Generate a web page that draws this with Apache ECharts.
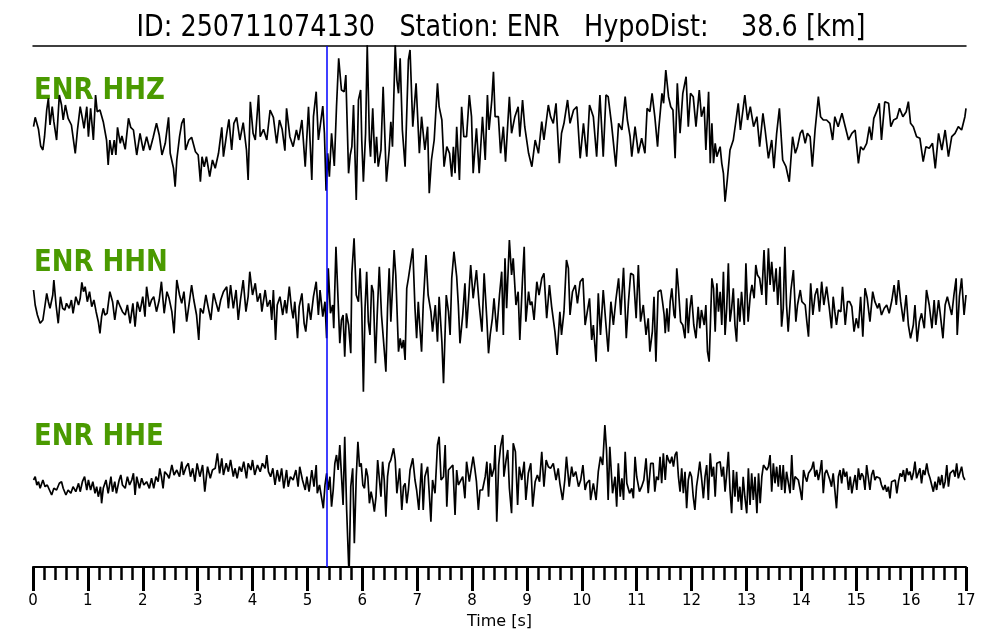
<!DOCTYPE html>
<html><head><meta charset="utf-8">
<script src="https://cdn.jsdelivr.net/npm/echarts@6.0.0/dist/echarts.min.js"></script>
<style>html,body{margin:0;padding:0;background:#fff}#c{width:1000px;height:640px}</style>
</head><body><div id="c"></div>
<script>
const titleText = 'ID: 250711074130   Station: ENR   HypoDist:    38.6 [km]';
const channelNames = ['ENR HHZ', 'ENR HHN', 'ENR HHE'];
const pickTime = 5.36;
const xTicks = {min: 0, max: 17, interval: 1};

// [time s, amplitude]
const zTrace = [[0.01,3.3],[0.04,12.7],[0.10,0.7],[0.14,-16],[0.18,-20],[0.21,-6.7],[0.25,20],[0.28,31.7],[0.31,5],[0.35,23.3],[0.38,8.3],[0.43,-10],[0.48,35],[0.52,25],[0.55,10],[0.59,25],[0.64,11.7],[0.70,5],[0.77,-23.3],[0.81,0],[0.86,23.3],[0.90,11.7],[0.93,1.7],[0.98,23.3],[1.01,-6.7],[1.05,21.7],[1.10,-10],[1.14,35],[1.17,18.3],[1.22,20],[1.28,8.3],[1.34,-10],[1.37,-35],[1.40,-10],[1.44,-25],[1.48,-10],[1.51,-25],[1.54,2.7],[1.59,-13.3],[1.62,-6],[1.68,-19.3],[1.74,11.7],[1.78,2.7],[1.83,0],[1.89,-25],[1.95,-3.3],[2.01,-20.7],[2.07,-6.7],[2.13,-20],[2.19,-7.3],[2.25,6.7],[2.30,-5],[2.35,-25],[2.41,-13.3],[2.47,12.7],[2.50,-23.3],[2.56,-38.3],[2.59,-56.7],[2.62,-30],[2.67,-6.7],[2.71,6.7],[2.75,11.7],[2.78,-20],[2.84,-10],[2.89,-7.3],[2.96,-21.7],[3.01,-25],[3.05,-51.7],[3.08,-26.7],[3.12,-36.7],[3.16,-26.7],[3.22,-46.7],[3.27,-30],[3.32,-38.3],[3.38,-23.3],[3.44,2.7],[3.47,-26.7],[3.53,-3.3],[3.57,10.7],[3.62,-20],[3.66,6.7],[3.71,12.7],[3.77,-10],[3.83,7.3],[3.89,-20],[3.92,-50],[3.96,28.3],[4.01,-3.3],[4.05,-10],[4.11,35],[4.14,-6.7],[4.20,0.7],[4.26,-10],[4.32,20],[4.38,12.7],[4.44,-13.3],[4.49,10],[4.54,0.7],[4.59,-20.7],[4.62,21.7],[4.68,-6.7],[4.74,-16.7],[4.80,0],[4.84,-10],[4.90,10],[4.96,-36.7],[5.02,23.3],[5.08,-50],[5.11,13.3],[5.16,38.3],[5.20,-10],[5.28,24],[5.31,-3.3],[5.34,-60.7],[5.37,-23.3],[5.40,-46.7],[5.44,-3.3],[5.49,-36],[5.53,23.3],[5.57,71.7],[5.62,40],
[5.67,38.3],[5.70,55],[5.75,-43.3],[5.78,-25],[5.81,-16.7],[5.84,25],[5.89,-70],[5.93,30],[5.97,40],[5.99,-10],[6.02,-51.7],[6.06,-3.3],[6.09,85],[6.13,-10],[6.15,-26.7],[6.19,21.7],[6.23,-33.3],[6.26,-6.7],[6.29,-36.7],[6.34,-20],[6.38,43.3],[6.44,-51.7],[6.49,-20],[6.52,8.3],[6.55,-16.7],[6.60,85],[6.63,50],[6.66,36.7],[6.69,71.7],[6.73,0],[6.78,-36.7],[6.84,70],[6.87,80],[6.92,3.3],[6.98,46.7],[7.04,-23.3],[7.08,13.3],[7.14,-20],[7.19,3.3],[7.22,-63.3],[7.26,-30],[7.31,-10],[7.37,46.7],[7.40,23.3],[7.45,10],[7.49,-36.7],[7.54,-16.7],[7.59,-23.3],[7.63,-46.7],[7.66,-16.7],[7.69,-43.3],[7.72,3.3],[7.77,-50],[7.81,23.3],[7.85,-6.7],[7.90,-6.7],[7.95,35],[7.99,13.3],[8.02,-43.3],[8.08,1.7],[8.13,-43.3],[8.19,13.3],[8.24,-30],[8.28,35],[8.31,0],[8.36,30],[8.39,58.3],[8.42,13.3],[8.48,13.3],[8.52,-23.3],[8.57,3.3],[8.61,-31.7],[8.68,33.3],[8.72,-3.3],[8.78,13.3],[8.84,23.3],[8.87,-6.7],[8.92,30],[8.96,3.3],[9.03,-23.3],[9.09,-36.7],[9.15,-10],[9.21,-23.3],[9.27,8.3],[9.31,-10],[9.39,25],[9.43,13.3],[9.48,6.7],[9.53,26.7],[9.59,-33.3],[9.63,-3.3],[9.675,6.7],[9.74,30],[9.785,6.7],[9.85,20],[9.91,23.3],[9.97,-28.3],[10.03,6.7],[10.09,-26.7],[10.14,25],[10.21,13.3],[10.27,-26.7],[10.33,35],[10.39,-26.7],[10.44,35],[10.48,33.3],[10.54,6.7],[10.62,-36.7],[10.67,6.7],[10.73,0],[10.79,33.3],[10.83,10],[10.88,-6.7],[10.91,-26.7],[10.97,3.3],[11.03,-23.3],[11.09,-8.3],[11.15,-23.3],[11.19,21.7],[11.24,18.3],[11.28,36.7],[11.33,13.3],[11.38,-16.7],
[11.40,0],[11.46,36.7],[11.49,26.7],[11.53,60],[11.58,33.3],[11.62,23.3],[11.66,20],[11.70,-28.3],[11.74,46.7],[11.79,-3.3],[11.84,36.7],[11.90,53.3],[11.94,3.3],[11.98,36.7],[12.03,33.3],[12.08,3.3],[12.14,40],[12.18,13.3],[12.23,23.3],[12.26,-20],[12.31,38.3],[12.34,-33.3],[12.37,6.7],[12.40,-33.3],[12.43,-13.3],[12.46,-26.7],[12.52,-16.7],[12.55,-33.3],[12.58,-43.3],[12.61,-71.7],[12.65,-50],[12.70,-20],[12.76,-10],[12.81,10],[12.85,26.7],[12.89,0],[12.97,35],[13.02,10],[13.07,23.3],[13.13,3.3],[13.19,13.3],[13.24,-16.7],[13.30,16.7],[13.34,0],[13.40,-28.3],[13.46,-10],[13.50,-38.3],[13.55,-3.3],[13.60,21.7],[13.66,-30],[13.72,-36.7],[13.78,-51.7],[13.84,-6.7],[13.89,-23.3],[13.93,-16.7],[13.98,-3.3],[14.02,0],[14.07,-13.3],[14.11,-3.3],[14.16,-6.7],[14.20,-36.7],[14.25,0],[14.31,33.3],[14.35,13.3],[14.40,10],[14.46,10],[14.52,6.7],[14.57,-10],[14.61,13.3],[14.67,3.3],[14.74,16.7],[14.80,3.3],[14.86,-10],[14.92,-3.3],[14.98,0],[15.04,-33.3],[15.08,-16.7],[15.13,-20],[15.19,-13.3],[15.24,3.3],[15.28,-10],[15.32,11.7],[15.37,18.3],[15.42,26.7],[15.46,-10],[15.52,28.3],[15.59,26.7],[15.63,3.3],[15.68,10],[15.74,11.7],[15.79,21.7],[15.85,13.3],[15.91,18.3],[15.95,28.3],[15.99,6.7],[16.04,3.3],[16.10,-6.7],[16.16,-8.3],[16.22,-31.7],[16.27,-16.7],[16.33,-18.3],[16.39,-13.3],[16.44,-38.3],[16.50,-3.3],[16.56,-20],[16.62,0],[16.68,-26.7],[16.74,-6.7],[16.80,-3.3],[16.86,3.3],[16.92,0],[16.98,13.3],[17.00,21.7]];

const nTrace = [[0.01,10],[0.04,-5],[0.08,-15],[0.13,-23.3],[0.18,-20],[0.22,-5],[0.25,6.7],[0.28,-1.7],[0.31,-8.3],[0.36,5],[0.38,20],[0.42,-5],[0.46,-23.3],[0.50,3.3],[0.54,-8.3],[0.58,-10],[0.61,-3.3],[0.66,-8.3],[0.70,0],[0.73,-13.3],[0.78,3.3],[0.83,-5],[0.86,1.7],[0.89,17.7],[0.92,8.3],[0.95,13.3],[0.99,-1.7],[1.03,8.3],[1.07,-6.7],[1.11,0],[1.15,-11.7],[1.19,-21.7],[1.22,-33.3],[1.25,-16.7],[1.28,-8.3],[1.31,-15],[1.35,-13.3],[1.40,8.3],[1.45,-1.7],[1.49,-20],[1.54,0],[1.59,-6.7],[1.63,-11.7],[1.68,-15],[1.72,-5],[1.77,-23.3],[1.82,-3.3],[1.86,-26.7],[1.90,-1.7],[1.95,-11.7],[2.00,3.3],[2.04,-16.7],[2.07,13.3],[2.12,-6.7],[2.16,0],[2.20,3.3],[2.25,-11.7],[2.30,0],[2.34,18.3],[2.39,-13.3],[2.44,8.3],[2.48,1.7],[2.53,-11.7],[2.57,-33.3],[2.62,20],[2.67,5],[2.71,-3.3],[2.75,8.3],[2.80,-21.7],[2.85,-1.7],[2.89,15],[2.93,0],[2.98,-15],[3.02,-40],[3.05,-8.3],[3.10,-13.3],[3.15,5],[3.19,-6.7],[3.24,-20],[3.29,6.7],[3.33,-1.7],[3.38,-11.7],[3.42,0],[3.47,8.3],[3.53,13.3],[3.56,-8.3],[3.60,15],[3.65,-8.3],[3.70,10],[3.74,-20],[3.78,0],[3.83,20],[3.88,-11.7],[3.92,3.3],[3.95,28.3],[4.00,5],[4.05,16.7],[4.09,-1.7],[4.14,6.7],[4.17,-11.7],[4.23,10],[4.27,-6.7],[4.32,0],[4.35,-20],[4.38,10],[4.42,-40],[4.45,-5],[4.50,3.3],[4.55,-15],[4.59,0],[4.62,-13.3],[4.67,13.3],[4.71,-8.3],[4.74,-18.3],[4.77,-1.7],[4.82,-38.3],[4.85,-6.7],[4.90,6.7],[4.94,-23.3],[4.97,-31.7],[5.02,-3.3],[5.06,-20],[5.11,3.3],[5.16,18.3],[5.20,-15],[5.23,10],[5.28,-16.7],[5.32,-1.7],[5.35,-38.3],[5.38,31.7],[5.42,-13.3],[5.46,-5],[5.48,-28.3],[5.52,53.3],[5.56,-1.7],[5.59,-43.3],[5.62,-20],[5.65,-15],[5.68,-56.7],
[5.71,-13.3],[5.75,-25],[5.79,-53.3],[5.81,26.7],[5.85,61.7],[5.89,5],[5.93,-1.7],[5.96,31.7],[5.99,-8.3],[6.02,-91.7],[6.05,-8.3],[6.08,28.3],[6.11,-21.7],[6.14,-35],[6.17,15],[6.20,8.3],[6.24,-63.3],[6.27,-16.7],[6.31,33.3],[6.35,-15],[6.40,-50],[6.43,-71.7],[6.46,-8.3],[6.49,31.7],[6.52,-21.7],[6.55,11.7],[6.58,50],[6.61,25],[6.66,-51.7],[6.69,-38.3],[6.72,-48.3],[6.75,-40],[6.78,-60],[6.81,11.7],[6.84,21.7],[6.87,23.3],[6.92,51.7],[6.96,-8.3],[6.99,-38.3],[7.02,-1.7],[7.05,-28.3],[7.08,-51.7],[7.11,-5],[7.16,45],[7.20,5],[7.25,-11.7],[7.28,-31.7],[7.33,-5],[7.37,-41.7],[7.40,3.3],[7.45,-41.7],[7.48,-83.3],[7.53,5],[7.57,-11.7],[7.60,-35],[7.63,21.7],[7.67,48.3],[7.72,23.3],[7.75,-5],[7.78,-43.3],[7.83,-15],[7.87,16.7],[7.90,-28.3],[7.93,-5],[7.975,35],[8.02,1.7],[8.08,30],[8.13,-5],[8.18,-31.7],[8.22,26.7],[8.27,-20],[8.30,-53.3],[8.33,-35],[8.37,-18.3],[8.40,1.7],[8.45,-31.7],[8.50,5],[8.54,28.3],[8.57,-35],[8.60,41.7],[8.63,-8.3],[8.68,60],[8.72,25],[8.75,41.7],[8.80,-5],[8.84,8.3],[8.87,-40],[8.92,21.7],[8.95,53.3],[8.98,-21.7],[9.03,8.3],[9.06,-5],[9.09,-1.7],[9.13,-20],[9.18,18.3],[9.22,5],[9.27,21.7],[9.31,26.7],[9.36,-18.3],[9.41,15],[9.45,-6.7],[9.51,-31.7],[9.55,-55],[9.60,-11.7],[9.63,-35],[9.675,-11.7],[9.72,40],[9.755,31.7],[9.785,-15],[9.83,8.3],[9.88,15],[9.92,-3.3],[9.97,18.3],[10.02,21.7],[10.06,-25],[10.10,-11.7],[10.14,1.7],[10.18,-40],[10.21,-25],[10.26,-61.7],[10.30,6.7],[10.34,-35],[10.39,10],[10.44,-25],[10.48,-51.7],[10.53,-1.7],[10.575,-25],[10.62,0],[10.67,21.7],[10.71,-15],[10.76,32.3],[10.81,-38.3],[10.85,-1.7],[10.89,26.7],[10.94,25],[10.99,-18.3],[11.03,35],[11.07,-21.7],[11.12,-5],[11.17,-35],[11.21,-18.3],[11.24,-51.7],[11.285,-31.7],[11.315,3.3],[11.35,-61.7],[11.39,8.3],
[11.44,10],[11.47,-1.7],[11.50,-15],[11.52,-33.3],[11.55,-8.3],[11.58,-31.7],[11.61,-1.7],[11.64,11.7],[11.68,-15],[11.70,-18.3],[11.73,31.7],[11.76,11.7],[11.80,-21.7],[11.84,-25],[11.88,-38.3],[11.91,1.7],[11.94,-33.3],[11.97,-8.3],[12.00,5],[12.04,-25],[12.08,-38.3],[12.12,-6.7],[12.15,-28.3],[12.18,-10],[12.23,-25],[12.26,-5],[12.29,-51.7],[12.32,-61.7],[12.37,21.7],[12.40,11.7],[12.43,-31.7],[12.46,16.7],[12.49,-11.7],[12.52,8.3],[12.55,-25],[12.58,28.3],[12.61,-35],[12.64,-8.3],[12.67,36.7],[12.70,-21.7],[12.73,-8.3],[12.76,11.7],[12.79,-25],[12.82,-41.7],[12.85,1.7],[12.88,-21.7],[12.91,8.3],[12.96,-25],[12.99,36.7],[13.03,-21.7],[13.07,5],[13.10,15],[13.14,1.7],[13.17,35],[13.20,25],[13.24,21.7],[13.28,5],[13.32,50],[13.36,-5],[13.40,51.7],[13.43,15],[13.46,38.3],[13.50,8.3],[13.54,31.7],[13.57,-5],[13.61,33.3],[13.64,-26.7],[13.67,-8.3],[13.70,53.3],[13.73,-5],[13.76,-31.7],[13.81,10],[13.855,30],[13.90,-21.7],[13.93,-5],[13.98,10],[14.01,-1.7],[14.07,-5],[14.10,-21.7],[14.13,-36.7],[14.17,16.7],[14.21,-15],[14.25,5],[14.29,11.7],[14.33,-11.7],[14.37,18.3],[14.41,-5],[14.46,13.3],[14.51,-8.3],[14.55,-28.3],[14.58,3.3],[14.61,-11.7],[14.64,-25],[14.675,-10],[14.72,-11.7],[14.75,13.3],[14.80,-25],[14.84,-1.7],[14.88,-1.7],[14.92,-6.7],[14.96,-31.7],[15.00,-18.3],[15.04,-28.3],[15.08,3.3],[15.12,-36.7],[15.16,11.7],[15.20,1.7],[15.25,-21.7],[15.30,8.3],[15.34,-1.7],[15.39,-8.3],[15.42,-3.3],[15.46,-15],[15.51,-8.3],[15.555,-5],[15.60,-13.3],[15.65,0],[15.69,15],[15.73,-5],[15.77,20],[15.81,-1.7],[15.86,-21.7],[15.91,5],[15.95,-25],[15.99,-38.3],[16.04,-25],[16.07,-5],[16.11,-41.7],[16.15,-21.7],[16.19,-13.3],[16.24,-28.3],[16.28,10],[16.33,-5],[16.38,-28.3],[16.42,0],[16.45,-25],[16.50,0],[16.53,-13.3],[16.58,-38.3],[16.62,-5],[16.66,3.3],[16.71,-8.3],[16.74,-15],[16.78,5],[16.82,21.7],[16.84,-35],[16.88,3.3],[16.92,21.7],[16.965,-15],[17.00,5]];

const eTrace = [[0.01,3],[0.04,6.3],[0.07,-2],[0.10,1.3],[0.13,-5.3],[0.18,3],[0.22,-3.7],[0.26,-2],[0.30,-7],[0.34,-12],[0.38,-5.3],[0.43,-7],[0.48,-0.3],[0.52,1.3],[0.55,-5.3],[0.60,-12],[0.64,-7],[0.69,-10.3],[0.73,-3.7],[0.78,-8.7],[0.83,-0.3],[0.86,-8.7],[0.90,1.3],[0.94,6.3],[0.98,-7],[1.01,3],[1.05,-7],[1.09,1.3],[1.13,-10.3],[1.16,-3.7],[1.19,-13.7],[1.23,-3.7],[1.25,-20.3],[1.28,-5.3],[1.33,3],[1.37,-10.3],[1.42,6.3],[1.45,-8.7],[1.49,1.3],[1.52,-10.3],[1.57,3],[1.60,8],[1.63,-2],[1.68,-5.3],[1.72,6.3],[1.76,-2],[1.80,3],[1.83,9.7],[1.86,-12],[1.89,6.3],[1.94,-5.3],[1.98,4.7],[2.02,-2],[2.07,1.3],[2.12,-5.3],[2.16,4.7],[2.20,-5.3],[2.24,6.3],[2.28,1.3],[2.31,14.7],[2.34,6.3],[2.37,-5.3],[2.40,11.3],[2.45,8],[2.48,4.7],[2.53,18],[2.57,8],[2.62,13],[2.67,6.3],[2.71,21.3],[2.74,8],[2.79,16.3],[2.83,19.7],[2.87,6.3],[2.91,14.7],[2.95,1.3],[2.99,19.7],[3.04,6.3],[3.09,18],[3.13,-8.7],[3.18,16.3],[3.23,4.7],[3.27,13],[3.32,14.7],[3.36,29.7],[3.40,9.7],[3.44,24.7],[3.47,8],[3.52,19.7],[3.56,11.3],[3.60,23],[3.65,6.3],[3.68,14.7],[3.72,4.7],[3.76,16.3],[3.80,11.3],[3.84,21.3],[3.89,4.7],[3.92,19.7],[3.97,13],[4.00,23],[4.04,8],[4.09,18],[4.14,11.3],[4.18,19.7],[4.23,14.7],[4.26,28],[4.29,11.3],[4.33,6.3],[4.37,14.7],[4.41,-2],[4.45,13],[4.49,1.3],[4.53,14.7],[4.57,-5.3],[4.62,13],[4.65,-3.7],[4.69,6.3],[4.74,3],[4.79,13],[4.83,-3.7],[4.86,16.3],[4.91,3],[4.96,-7],[4.99,6.3],[5.03,-8.7],[5.08,13],[5.12,-3.7],[5.16,18],[5.18,-10.3],[5.22,-2],[5.26,-15.3],[5.29,-25.3],[5.32,-2],[5.35,9.7],[5.38,-7],[5.41,6.3],[5.44,-23.7],[5.47,-7],[5.50,19.7],[5.53,28],[5.56,13],[5.59,38],[5.62,8],[5.65,-22],[5.68,46.3],
[5.715,-27],[5.75,-80.3],[5.76,-90],[5.79,-3.7],[5.825,14.7],[5.855,-60.3],[5.89,6.3],[5.92,41.3],[5.95,16.3],[5.98,19.7],[6.01,-2],[6.04,-5.3],[6.07,14.7],[6.10,6.3],[6.13,-20.3],[6.16,-8.7],[6.19,-17],[6.22,-28.7],[6.25,-13.7],[6.28,23],[6.31,23],[6.34,-13.7],[6.37,21.3],[6.40,3],[6.43,-33.7],[6.46,6.3],[6.49,19.7],[6.52,23],[6.57,34.7],[6.60,23],[6.63,-10.3],[6.68,14.7],[6.72,-27],[6.75,-3.7],[6.78,-0.3],[6.81,-20.3],[6.84,-7],[6.87,13],[6.92,24.7],[6.96,3],[6.99,-7],[7.03,-27],[7.08,19.7],[7.11,-27],[7.14,6.3],[7.19,16.3],[7.22,-10.3],[7.25,-38.7],[7.28,3],[7.325,-10.3],[7.37,38],[7.40,46.3],[7.435,3],[7.48,6.3],[7.51,38],[7.54,-23.7],[7.57,13],[7.60,11.3],[7.65,18],[7.69,-32],[7.72,13],[7.75,-2],[7.78,-3.7],[7.83,6.3],[7.87,-15.3],[7.90,21.3],[7.95,1.3],[7.98,3],[8.02,26.3],[8.05,14.7],[8.08,1.3],[8.115,-27],[8.145,-7],[8.19,-7],[8.24,6.3],[8.27,21.3],[8.30,-13.7],[8.33,19.7],[8.36,6.3],[8.40,14.7],[8.42,38],[8.45,-38.7],[8.485,18],[8.52,36.3],[8.56,48],[8.58,6.3],[8.62,23],[8.65,33],[8.68,-5.3],[8.72,-30.3],[8.75,39.7],[8.79,31.3],[8.83,-22],[8.86,16.3],[8.905,3],[8.95,21.3],[8.98,-17],[9.025,9.7],[9.07,19.7],[9.105,-23.7],[9.15,1.3],[9.19,8],[9.23,1.3],[9.27,31.3],[9.31,-3.7],[9.35,23],[9.39,16.3],[9.43,14.7],[9.48,19.7],[9.53,3],[9.57,14.7],[9.60,-0.3],[9.65,-17],[9.69,3],[9.72,26.3],[9.77,-3.7],[9.815,16.3],[9.845,6.3],[9.89,11.3],[9.94,-3.7],[9.98,3],[10.02,18],[10.06,-7],[10.09,-0.3],[10.14,3],[10.16,-17],[10.21,-0.3],[10.26,-17],[10.30,11.3],[10.34,26.3],[10.38,18],[10.42,58],[10.45,33],[10.48,-17],[10.51,36.3],[10.56,-10.3],[10.605,6.3],[10.635,-23.7],[10.665,19.7],[10.70,-13.7],[10.73,4.7],[10.76,-17],[10.79,31.3],[10.82,-0.3],[10.87,-10.3],[10.91,-5.3],[10.94,-15.3],[10.97,26.3],[11.00,6.3],[11.05,-8.7],[11.09,-3.7],[11.13,3],[11.17,24.7],[11.21,-10.3],[11.255,19.7],[11.30,19.7],[11.33,-8.7],[11.36,6.3],
[11.395,3],[11.425,26.3],[11.455,-0.3],[11.485,29.7],[11.52,3],[11.55,28],[11.58,23],[11.61,19.7],[11.64,26.3],[11.67,16.3],[11.70,28],[11.73,31.3],[11.76,6.3],[11.79,-8.7],[11.82,14.7],[11.85,-10.3],[11.88,11.3],[11.91,-25.3],[11.94,3],[11.97,11.3],[12.00,6.3],[12.03,-13.7],[12.06,-27],[12.09,-3.7],[12.12,8],[12.15,21.3],[12.185,3],[12.215,-15.3],[12.245,6.3],[12.275,18],[12.305,-17],[12.34,29.7],[12.37,6.3],[12.40,16.3],[12.43,-13.7],[12.46,19.7],[12.49,18],[12.52,21.3],[12.55,6.3],[12.58,16.3],[12.61,-8.7],[12.64,9.7],[12.67,31.3],[12.70,-7],[12.73,-30.3],[12.76,13],[12.79,-13.7],[12.82,11.3],[12.85,-18.7],[12.88,-3.7],[12.91,-27],[12.94,6.3],[12.97,-13.7],[13.005,-30.3],[13.035,14.7],[13.065,-22],[13.095,9.7],[13.125,-17],[13.155,6.3],[13.19,-30.3],[13.22,9.7],[13.25,-20.3],[13.28,6.3],[13.31,18],[13.34,19.7],[13.37,13],[13.40,16.3],[13.43,28],[13.46,-8.7],[13.49,19.7],[13.52,-0.3],[13.55,16.3],[13.58,-3.7],[13.61,18],[13.64,-7],[13.67,18],[13.70,-10.3],[13.73,11.3],[13.765,-0.3],[13.795,-10.3],[13.825,28],[13.855,-7],[13.885,6.3],[13.915,4.7],[13.945,3],[13.98,-7],[14.01,-17],[14.04,13],[14.07,6.3],[14.10,1.3],[14.13,9.7],[14.16,8],[14.19,14.7],[14.22,21.3],[14.25,6.3],[14.28,13],[14.31,3],[14.34,11.3],[14.37,23],[14.40,-10.3],[14.43,9.7],[14.46,13],[14.52,3],[14.55,-3.7],[14.58,9.7],[14.61,-7],[14.64,-25.3],[14.675,6.3],[14.705,13],[14.735,-0.3],[14.765,14.7],[14.795,6.3],[14.825,11.3],[14.86,-7],[14.89,6.3],[14.92,-10.3],[14.95,-0.3],[14.98,8],[15.01,-7],[15.04,14.7],[15.07,3],[15.10,9.7],[15.13,6.3],[15.16,-7],[15.19,18],[15.22,19.7],[15.25,-7],[15.28,8],[15.31,13],[15.34,3],[15.37,6.3],[15.43,4.7],[15.46,-2],[15.495,-7],[15.525,-2],[15.555,-8.7],[15.585,-3.7],[15.615,-15.3],[15.645,1.3],[15.68,-0.3],[15.71,3],[15.74,-10.3],[15.77,1.3],[15.80,9.7],[15.83,6.3],[15.86,13],[15.89,1.3],[15.92,14.7],[15.95,8],[15.98,11.3],[16.01,3],[16.04,9.7],[16.07,21.3],[16.10,4.7],[16.13,9.7],[16.16,14.7],[16.19,-0.3],[16.22,13],[16.25,8],[16.285,19.7],[16.315,9.7],[16.345,4.7],[16.375,3],[16.405,-8.7],[16.435,1.3],[16.465,-7],[16.50,6.3],[16.53,-2],[16.56,8],[16.59,-5.3],[16.62,1.3],[16.65,18],[16.68,-3.7],[16.71,9.7],[16.74,8],[16.77,13],[16.80,6.3],[16.83,19.7],[16.86,4.7],[16.89,3],[16.92,16.3],[16.95,6.3],[16.98,3]];

// layout: vertical offsets of each trace inside the shared plot (plot units = px)
const offsets = [437, 267, 84];
const traces = [zTrace, nTrace, eTrace];
const labelY = [91, 263, 437];

const chart = echarts.init(document.getElementById('c'), null, {renderer: 'canvas'});
const FONT = '"DejaVu Sans", sans-serif';

const series = traces.map((tr, i) => ({
  type: 'line',
  data: tr.map(p => [p[0], p[1] + offsets[i]]),
  showSymbol: false,
  symbol: 'none',
  clip: true,
  lineStyle: {color: '#000', width: 1.7},
  silent: true,
  z: 2
}));
series.push({
  type: 'line', data: [], z: 3,
  markLine: {
    silent: true, symbol: ['none', 'none'], animation: false,
    label: {show: false},
    lineStyle: {color: '#0000ff', width: 1.5, type: 'solid'},
    data: [{xAxis: pickTime}]
  }
});

const graphic = [{
  type: 'text', x: 501, y: 28, scaleY: 1.18,
  style: {text: titleText, font: '25.5px ' + FONT, fill: '#000', align: 'center', verticalAlign: 'middle'}
}].concat(channelNames.map((n, i) => ({
  type: 'text', x: 34, y: labelY[i], scaleY: 1.15,
  style: {text: n, font: 'bold 26px ' + FONT, fill: '#4a9a00', align: 'left', verticalAlign: 'middle'}
})));

chart.setOption({
  animation: false,
  backgroundColor: '#fff',
  grid: {left: 33, right: 34, top: 46, bottom: 73, containLabel: false},
  xAxis: [{
    type: 'value', min: xTicks.min, max: xTicks.max, interval: xTicks.interval,
    position: 'bottom',
    name: 'Time [s]', nameLocation: 'middle', nameGap: 40,
    nameTextStyle: {fontFamily: FONT, fontSize: 16, color: '#000'},
    axisLine: {show: true, onZero: false, lineStyle: {color: '#000', width: 2}},
    axisTick: {show: true, inside: false, length: 24, lineStyle: {color: '#000', width: 3}},
    minorTick: {show: true, splitNumber: 5, length: 13, lineStyle: {color: '#000', width: 2.5}},
    axisLabel: {show: true, margin: 27, fontFamily: FONT, fontSize: 15, color: '#000'},
    splitLine: {show: false}, minorSplitLine: {show: false}
  }, {
    type: 'value', min: xTicks.min, max: xTicks.max, position: 'top',
    axisLine: {show: true, onZero: false, lineStyle: {color: '#000', width: 1.5}},
    axisTick: {show: false}, axisLabel: {show: false}, splitLine: {show: false}
  }],
  yAxis: {type: 'value', min: 0, max: 521, show: false, splitLine: {show: false}},
  series: series,
  graphic: graphic
});
</script></body></html>
